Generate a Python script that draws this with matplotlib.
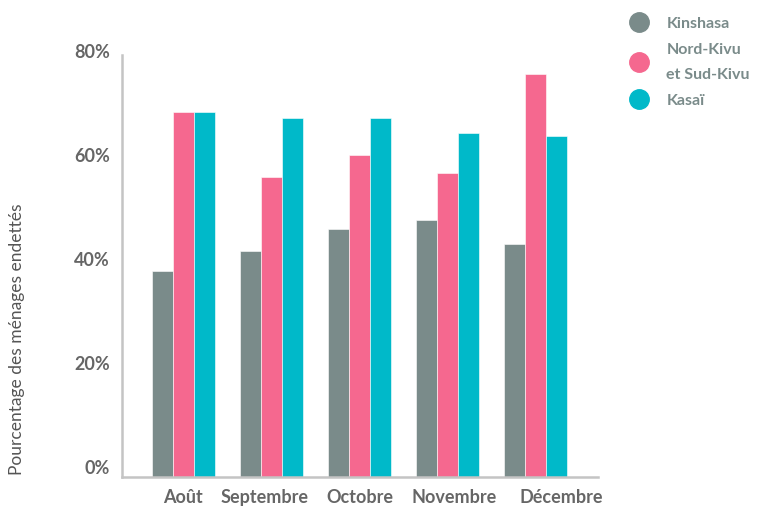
import matplotlib.pyplot as plt
from matplotlib.lines import Line2D
from matplotlib.transforms import ScaledTranslation
import numpy as np

months = ['Août', 'Septembre', 'Octobre', 'Novembre', 'Décembre']
kinshasa = [39.6, 43.5, 47.7, 49.5, 44.9]
kivu = [70.3, 57.8, 61.9, 58.4, 77.6]
kasai = [70.3, 69.1, 69.1, 66.1, 65.6]
series_names = ['Kinshasa', 'Nord-Kivu\net Sud-Kivu', 'Kasaï']
yticks = [0, 20, 40, 60, 80]

colors = ['#7a8b8a', '#f5688f', '#00b9c9']
txt_gray = '#666666'

plt.rcParams['font.family'] = ['Lato', 'DejaVu Sans']

fig = plt.figure(figsize=(7.63, 5.07), dpi=100)
ax = fig.add_axes([0.1599, 0.0592, 0.6238, 0.8323])

x = np.arange(len(months))
w = 0.239
for i, vals in enumerate([kinshasa, kivu, kasai]):
    ax.bar(x + (i - 1) * w, vals, width=w, color=colors[i],
           edgecolor='white', linewidth=0.4)

ax.set_xlim(-0.70, 4.71)
ax.set_ylim(0, 81.2)
ax.set_yticks(yticks)
ax.set_yticklabels([f'{v}%' for v in yticks])
ax.set_xticks(x)
ax.set_xticklabels(months)
ax.tick_params(length=0)
ax.tick_params(axis='y', pad=8.5)
ax.tick_params(axis='x', pad=9)
for lab in ax.get_yticklabels():
    lab.set_fontweight('bold')
    lab.set_fontsize(13)
    lab.set_color(txt_gray)
    lab.set_verticalalignment('bottom')
# month labels in the original are not exactly centred under the groups
shifts_px = [-1, -7, 0, 7, 26]
for lab, dx in zip(ax.get_xticklabels(), shifts_px):
    lab.set_fontweight('bold')
    lab.set_fontsize(13)
    lab.set_color(txt_gray)
    lab.set_transform(lab.get_transform() + ScaledTranslation(dx / 100, 0, fig.dpi_scale_trans))

for s in ['top', 'right']:
    ax.spines[s].set_visible(False)
for s in ['left', 'bottom']:
    ax.spines[s].set_color('#c4c4c4')
    ax.spines[s].set_linewidth(1.8)

fig.text(17 / 763, 0.330, 'Pourcentage des ménages endettés', rotation=90,
         va='center', ha='center', fontsize=12.5, color='#555555')

handles = [Line2D([], [], marker='o', linestyle='', markersize=14,
                  markerfacecolor=c, markeredgecolor=c) for c in colors]
leg = fig.legend(handles, series_names, loc='upper left',
                 bbox_to_anchor=(609 / 763, 1 - 2 / 507), frameon=False,
                 handletextpad=0.7, labelspacing=0.75,
                 prop={'weight': 'bold', 'size': 11.5})
for t in leg.get_texts():
    t.set_color('#7a8b8a')
    t.set_linespacing(2.0)

fig.savefig('out.png', dpi=100)
